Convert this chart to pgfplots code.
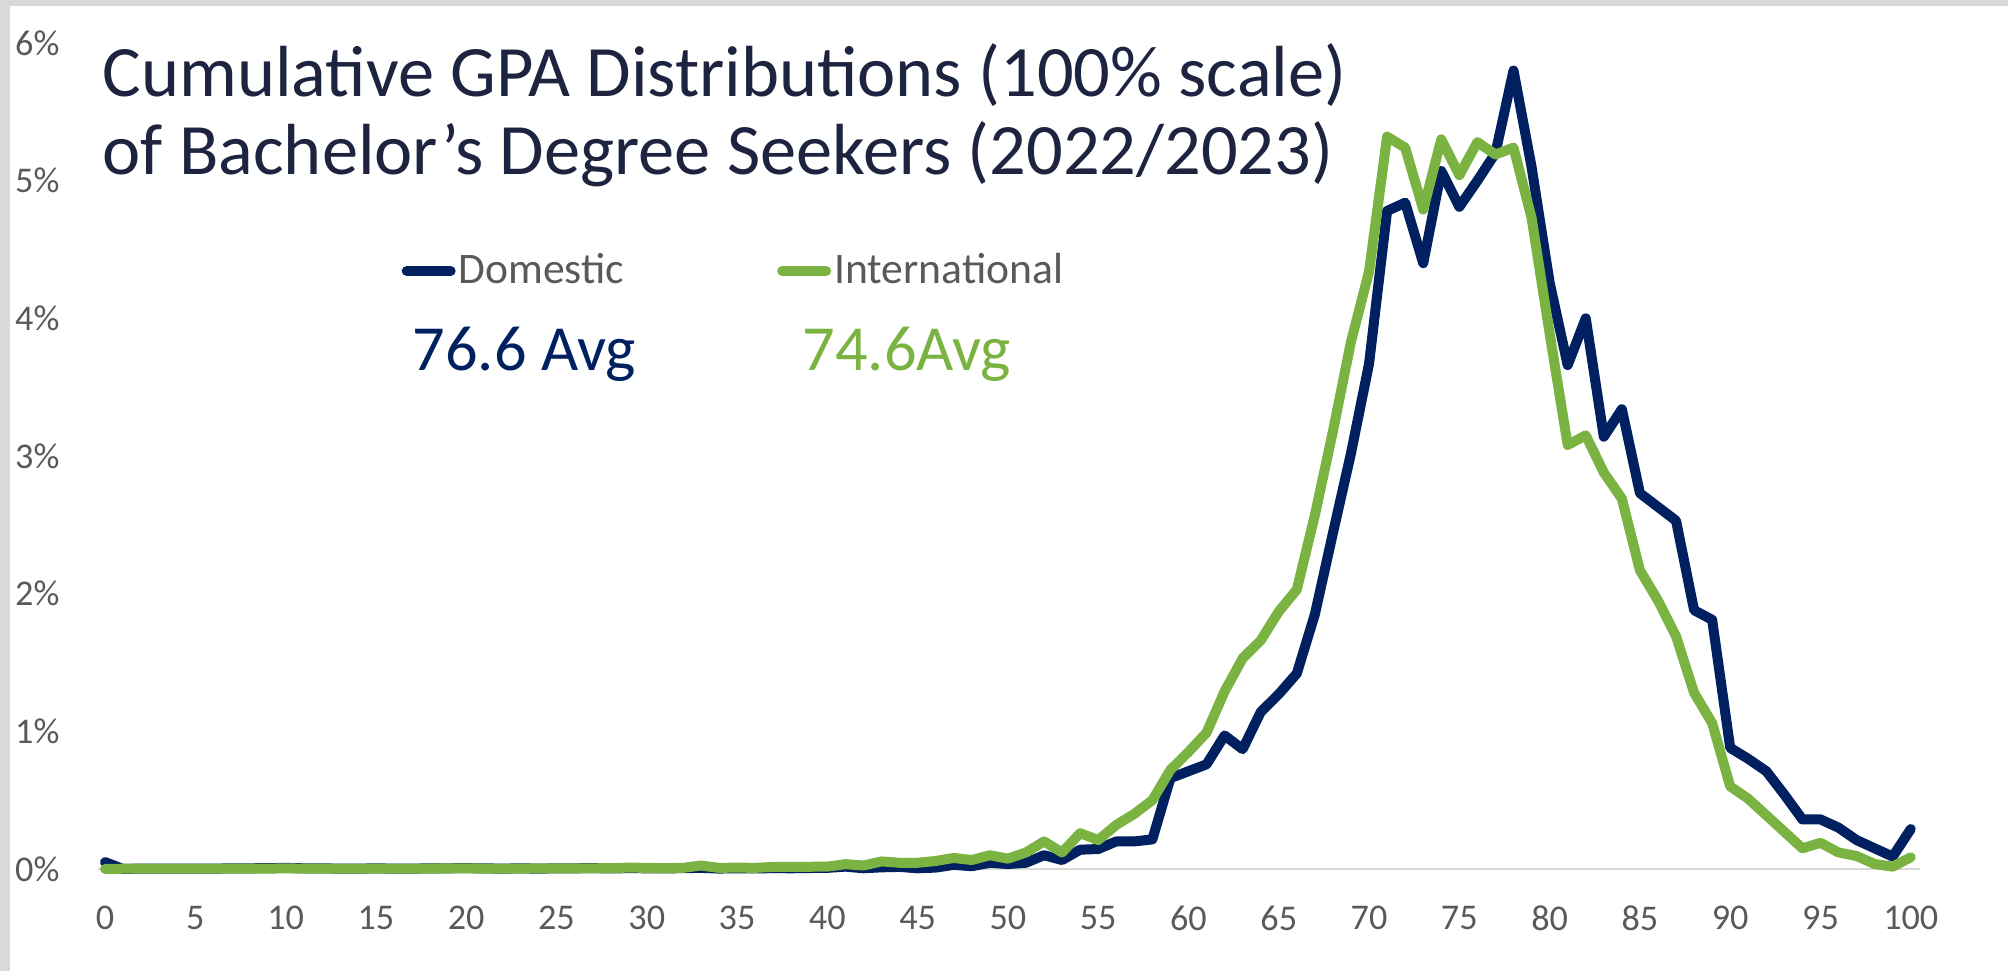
\documentclass[border=0pt]{standalone}
\usepackage{fontspec}
\setmainfont{Carlito}
\usepackage{pgfplots}
\pgfplotsset{compat=1.18}
\usepackage{pgfplotstable}

\definecolor{domblue}{HTML}{002060}
\definecolor{intgreen}{HTML}{7AB342}
\definecolor{ticktxt}{HTML}{595959}
\definecolor{titletxt}{HTML}{1E2340}
\definecolor{baseln}{HTML}{D9D9D9}
\definecolor{framegray}{HTML}{D9D9D9}

% share of students (%) at each GPA point
\pgfplotstableread{
x   dom    intl
0   0.050  0.000
1   0.000  0.002
2   0.003  0.002
3   0.002  0.002
4   0.003  0.002
5   0.002  0.002
6   0.003  0.002
7   0.004  0.003
8   0.005  0.003
9   0.006  0.003
10  0.008  0.004
11  0.005  0.003
12  0.004  0.003
13  0.003  0.003
14  0.003  0.003
15  0.004  0.003
16  0.003  0.003
17  0.003  0.003
18  0.004  0.003
19  0.005  0.004
20  0.006  0.004
21  0.004  0.003
22  0.003  0.003
23  0.004  0.003
24  0.003  0.004
25  0.004  0.004
26  0.005  0.004
27  0.006  0.005
28  0.004  0.006
29  0.006  0.010
30  0.005  0.008
31  0.004  0.006
32  0.006  0.008
33  0.008  0.025
34  0.003  0.008
35  0.005  0.010
36  0.004  0.008
37  0.006  0.015
38  0.005  0.015
39  0.007  0.016
40  0.008  0.017
41  0.017  0.035
42  0.005  0.025
43  0.012  0.055
44  0.015  0.045
45  0.005  0.045
46  0.010  0.058
47  0.030  0.080
48  0.020  0.065
49  0.045  0.100
50  0.036  0.075
51  0.045  0.120
52  0.100  0.200
53  0.065  0.120
54  0.140  0.260
55  0.145  0.210
56  0.200  0.320
57  0.200  0.400
58  0.215  0.500
59  0.660  0.720
60  0.710  0.850
61  0.760  0.990
62  0.970  1.290
63  0.870  1.530
64  1.140  1.660
65  1.270  1.870
66  1.420  2.030
67  1.850  2.570
68  2.440  3.180
69  3.020  3.830
70  3.670  4.340
71  4.780  5.320
72  4.840  5.240
73  4.400  4.790
74  5.070  5.300
75  4.810  5.040
76  5.000  5.280
77  5.200  5.190
78  5.800  5.240
79  5.100  4.730
80  4.260  3.890
81  3.660  3.080
82  4.000  3.150
83  3.140  2.880
84  3.340  2.690
85  2.730  2.170
86  2.630  1.950
87  2.530  1.690
88  1.880  1.280
89  1.810  1.060
90  0.880  0.600
91  0.800  0.510
92  0.710  0.390
93  0.540  0.270
94  0.360  0.150
95  0.360  0.190
96  0.300  0.120
97  0.210  0.094
98  0.150  0.036
99  0.090  0.017
100 0.290  0.085
}\gpadata

\begin{document}
\begin{tikzpicture}
\path[use as bounding box] (0,0) rectangle (200.8mm,97.1mm);
\fill[framegray] (0,0) rectangle (1.0mm,97.1mm);
\fill[framegray] (0,96.5mm) rectangle (200.8mm,97.1mm);

\begin{axis}[
    at={(9.78mm,10.2mm)}, anchor=south west,
    scale only axis, width=182.2mm, height=82.6mm,
    xmin=-0.4, xmax=100.5, ymin=0, ymax=6,
    clip=false,
    axis x line*=bottom, axis y line*=left,
    x axis line style={draw=baseln, line width=0.2mm, -},
    y axis line style={draw=none},
    xtick={0,5,...,100}, ytick={0,1,...,6},
    yticklabels={0\%,1\%,2\%,3\%,4\%,5\%,6\%},
    major tick length=0pt, tick style={draw=none},
    ticklabel style={font=\fontsize{10.3}{12}\selectfont, text=ticktxt},
    xticklabel style={anchor=center, yshift=-4.9mm},
    yticklabel style={anchor=east, xshift=-2.6mm},
    /pgf/number format/assume math mode=true,
    legend columns=2,
    legend style={at={(0.1664,0.724)}, anchor=west, draw=none, fill=none,
        inner sep=0pt, font=\fontsize{12.4}{14}\selectfont, text=ticktxt,
        nodes={inner sep=0.3mm},
        /tikz/every even column/.append style={column sep=15mm}},
    legend image code/.code={\draw[#1, line width=1mm, line cap=round] (0.5mm,0mm) -- (4.9mm,0mm);},
]
\addplot[domblue, line width=1mm, line join=round, line cap=round]
    table[x=x, y=dom] {\gpadata};
\addlegendentry{Domestic}
\addplot[intgreen, line width=1mm, line join=round, line cap=round]
    table[x=x, y=intl] {\gpadata};
\addlegendentry{International}
\end{axis}

\node[anchor=base west, inner sep=0pt, text=titletxt, font=\fontsize{20.6}{24}\selectfont]
    at (10.2mm,87.4mm) {Cumulative GPA Distributions (100\% scale)};
\node[anchor=base west, inner sep=0pt, text=titletxt, font=\fontsize{20.6}{24}\selectfont]
    at (10.2mm,79.6mm) {of Bachelor’s Degree Seekers (2022/2023)};
\node[anchor=base west, inner sep=0pt, text=domblue, font=\fontsize{18.3}{22}\selectfont]
    at (41.2mm,60.0mm) {76.6 Avg};
\node[anchor=base west, inner sep=0pt, text=intgreen, font=\fontsize{18.3}{22}\selectfont]
    at (80.2mm,60.0mm) {74.6Avg};
\end{tikzpicture}
\end{document}
